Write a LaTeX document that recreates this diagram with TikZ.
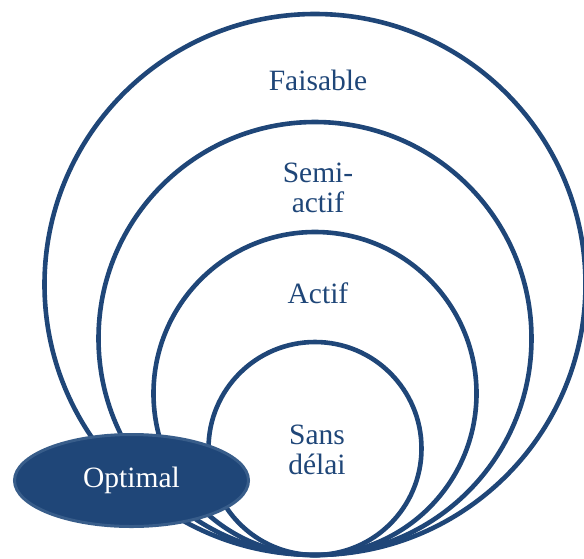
\documentclass[tikz,border=0pt]{standalone}
\usepackage{fontspec}
\setmainfont{Liberation Serif}
\usetikzlibrary{shapes.geometric}

\definecolor{navy}{RGB}{31,70,120}
\definecolor{navyedge}{RGB}{56,93,138}

\tikzset{
  ring/.style={circle, draw=navy, line width=4.6pt, inner sep=0pt, outer sep=0pt, anchor=south},
  label text/.style={text=navy, font=\fontsize{29.5}{30}\selectfont, align=center},
}

\begin{document}
\begin{tikzpicture}[x=1pt, y=-1pt]
    \useasboundingbox (0,0) rectangle (584,558);

    % les quatre cercles, tangents en bas
    \coordinate (base) at (315,555);
    \node[ring, minimum size=541pt] (faisable) at (base) {};
    \node[ring, minimum size=433pt] (semiactif) at (base) {};
    \node[ring, minimum size=323pt] (actif) at (base) {};
    \node[ring, minimum size=213pt] (sansdelai) at (base) {};

    \node[label text, anchor=base] (tfaisable) at (318,90) {Faisable};
    \node[label text] (tsemiactif) at (318,188) {Semi-\\actif};
    \node[label text, anchor=base] (tactif) at (318,303) {Actif};
    \node[label text] (tsansdelai) at (317,450) {Sans\\délai};

    % optimal
    \node[ellipse, fill=navy, draw=navyedge, line width=3pt, minimum width=234pt,
          minimum height=92pt, inner sep=0pt, text=white,
          font=\fontsize{29.5}{30}\selectfont] (optimal) at (131.5,480.5) {Optimal};
\end{tikzpicture}
\end{document}
